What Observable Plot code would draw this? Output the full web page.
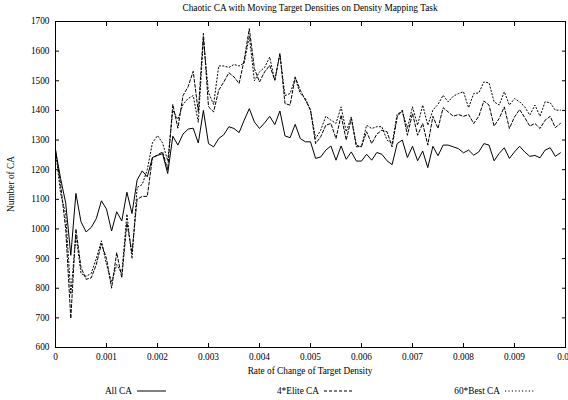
<!DOCTYPE html>
<html>
<head>
<meta charset="utf-8">
<script src="https://cdn.jsdelivr.net/npm/d3@7"></script>
<script src="https://cdn.jsdelivr.net/npm/@observablehq/plot@0.6"></script>
<style>
  html, body { margin: 0; padding: 0; background: white; }
  #wrap { position: relative; width: 568px; height: 400px; font-family: "Liberation Serif", "Times New Roman", serif; color: black; overflow: hidden; }
  #wrap svg { position: absolute; left: 0; top: 0; }
  .lbl { position: absolute; font-size: 9.3px; line-height: 1; white-space: nowrap; }
</style>
</head>
<body>
<div id="wrap"></div>
<script>
const titleText = "Chaotic CA with Moving Target Densities on Density Mapping Task";
const xLabel = "Rate of Change of Target Density";
const yLabel = "Number of CA";
const seriesNames = ["All CA", "4*Elite CA", "60*Best CA"];
const rateStep = 0.0001;

const allCA = [1266,1170,1088,911,1120,1024,990,1005,1035,1095,1067,993,1058,1027,1124,1052,1165,1196,1176,1241,1248,1254,1187,
  1313,1283,1320,1337,1340,1290,1400,1288,1277,1305,1318,1345,1339,1325,1367,1406,1361,1339,1358,1380,1352,1398,1314,1308,
  1353,1305,1294,1294,1238,1243,1266,1280,1232,1280,1235,1260,1229,1229,1252,1232,1258,1252,1230,1217,1288,1300,1241,1279,1230,1263,1207,
  1279,1247,1283,1283,1277,1271,1257,1266,1249,1260,1288,1283,1230,1255,1274,1238,1260,1279,1260,1245,1248,1240,1266,1274,1245,1257];

const eliteCA = [1266,1150,1000,698,1000,870,830,835,880,950,900,800,920,835,1020,920,1100,1110,1110,1240,1250,1260,1200,
  1420,1340,1450,1480,1532,1395,1660,1412,1395,1468,1496,1527,1513,1491,1570,1676,1541,1496,1530,1552,1502,1592,1423,1418,
  1513,1468,1435,1401,1288,1311,1350,1356,1305,1384,1300,1373,1277,1279,1328,1288,1320,1333,1328,1277,1378,1401,1316,1390,1316,1356,1283,
  1380,1339,1409,1395,1380,1386,1380,1386,1356,1380,1432,1418,1347,1373,1412,1339,1378,1403,1376,1347,1356,1339,1367,1380,1342,1356];

const bestCA = [1266,1120,1050,780,980,850,840,850,900,960,880,820,880,850,1050,900,1140,1150,1200,1290,1315,1290,1230,
  1400,1370,1420,1440,1450,1360,1640,1460,1420,1550,1550,1545,1555,1550,1560,1650,1500,1530,1545,1580,1500,1590,1450,1457,
  1508,1457,1440,1401,1305,1333,1380,1367,1356,1412,1328,1378,1283,1277,1350,1339,1345,1345,1300,1288,1388,1396,1339,1412,1350,1418,1350,
  1401,1420,1451,1429,1448,1457,1463,1409,1457,1459,1496,1493,1429,1418,1463,1418,1440,1429,1412,1384,1418,1380,1429,1426,1401,1401];

const yTicks = [600,700,800,900,1000,1100,1200,1300,1400,1500,1600,1700];
const xTicks = [0,0.001,0.002,0.003,0.004,0.005,0.006,0.007,0.008,0.009,0.01];
const xTickLabels = ["0","0.001","0.002","0.003","0.004","0.005","0.006","0.007","0.008","0.009","0.01"];

const seriesValues = [allCA, eliteCA, bestCA];
const dashes = [null, "3,2", "1.2,2.2"];

const rows = [];
seriesValues.forEach((vals, s) => vals.forEach((v, i) => rows.push({rate: i * rateStep, value: v, series: seriesNames[s]})));

const lineMarks = seriesNames.map((name, s) =>
  Plot.lineY(rows.filter(r => r.series === name), {
    x: "rate", y: "value", stroke: "black", strokeWidth: 1,
    strokeDasharray: dashes[s] || undefined
  })
);

const chart = Plot.plot({
  width: 568, height: 400,
  marginLeft: 55, marginRight: 3, marginTop: 21, marginBottom: 53,
  x: {domain: [0, 0.01]},
  y: {domain: [600, 1700]},
  style: {fontFamily: "Liberation Serif, Times New Roman, serif", fontSize: "9.3px", color: "black", background: "white"},
  marks: [
    ...lineMarks,
    Plot.frame({stroke: "black", strokeWidth: 1}),
    Plot.axisY(yTicks, {anchor: "left", tickSize: -4, tickPadding: 10, label: null, tickFormat: d => String(d)}),
    Plot.axisY(yTicks, {anchor: "right", tickSize: -4, tickFormat: () => "", label: null}),
    Plot.axisX(xTicks, {anchor: "bottom", tickSize: -4, tickPadding: 10, label: null, tickFormat: d => xTickLabels[xTicks.indexOf(d)]}),
    Plot.axisX(xTicks, {anchor: "top", tickSize: -4, tickFormat: () => "", label: null})
  ]
});

const wrap = document.getElementById("wrap");
wrap.appendChild(chart);

function addLabel(text, css) {
  const d = document.createElement("div");
  d.className = "lbl";
  d.textContent = text;
  Object.assign(d.style, css);
  wrap.appendChild(d);
  return d;
}

addLabel(titleText, {left: "0px", width: "620px", textAlign: "center", top: "4px"});
addLabel(xLabel, {left: "0px", width: "620px", textAlign: "center", top: "366.5px"});
addLabel(yLabel, {left: "12px", top: "184px", transform: "translate(-50%,-50%) rotate(-90deg)"});

// legend
const legendTextRight = [132, 319, 500];
seriesNames.forEach((name, s) => {
  addLabel(name, {right: (568 - legendTextRight[s]) + "px", top: "386.5px", textAlign: "right"});
  const svg = d3.create("svg")
    .attr("width", 30).attr("height", 6)
    .style("position", "absolute")
    .style("left", (legendTextRight[s] + 5) + "px")
    .style("top", "388px");
  svg.append("line")
    .attr("x1", 0).attr("x2", 29).attr("y1", 3).attr("y2", 3)
    .attr("stroke", "black").attr("stroke-width", 1)
    .attr("stroke-dasharray", dashes[s]);
  wrap.appendChild(svg.node());
});
</script>
</body>
</html>
